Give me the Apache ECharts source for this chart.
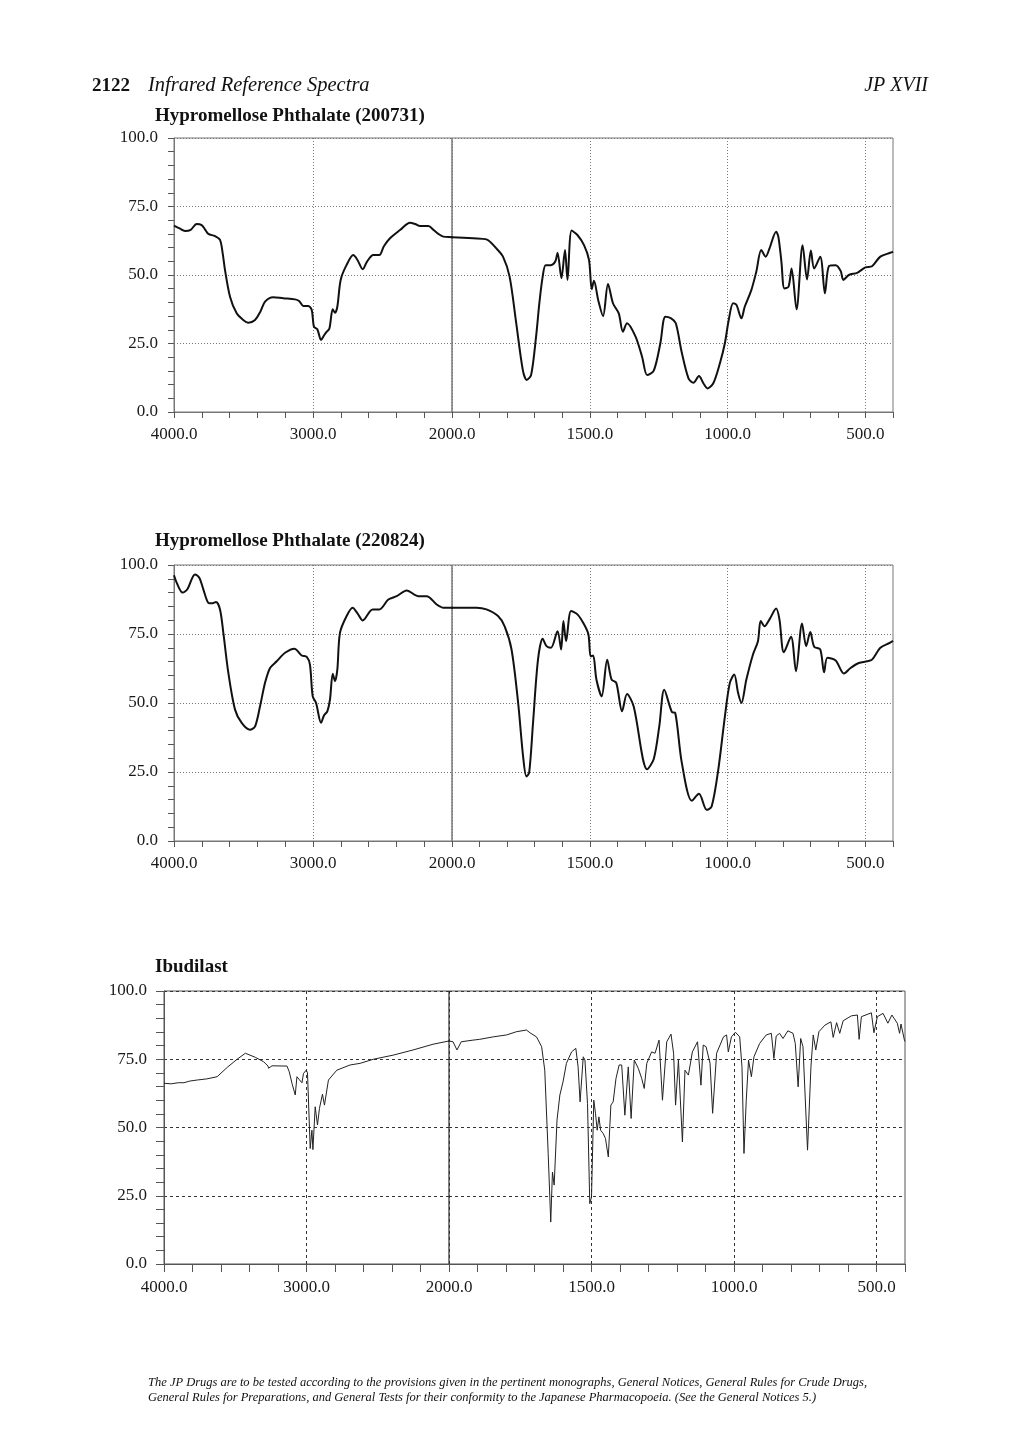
<!DOCTYPE html>
<html>
<head>
<meta charset="utf-8">
<script src="https://cdn.jsdelivr.net/npm/echarts@6/dist/echarts.min.js"></script>
<style>
html,body{margin:0;padding:0;background:#ffffff;}
#page{width:1020px;height:1429px;}
</style>
</head>
<body>
<div id="page"></div>
<script>
// ---------- data (wavenumber in cm-1, transmittance in %) ----------
const hpPhthalate200731Wavenumber = [4000,3960,3921,3880,3837,3801,3775,3753,3705,3669,3650,3633,3597,3549,3500,3465,3417,3380,3345,3286,3214,3129,3100,3070,3034,3009,2993,2969,2942,2920,2901,2882,2858,2842,2825,2801,2760,2710,2680,2642,2610,2566,2523,2490,2446,2374,2302,2265,2230,2170,2130,2098,2062,2000,1923,1875,1839,1815,1791,1767,1743,1729,1713,1695,1683,1671,1660,1641,1625,1617,1603,1590,1581,1566,1545,1521,1503,1493,1485,1469,1452,1434,1416,1395,1380,1365,1334,1310,1292,1268,1244,1226,1205,1188,1167,1142,1124,1104,1088,1073,1052,1028,1010,996,980,968,950,938,914,896,878,862,848,824,816,805,794,779,768,750,728,712,698,686,664,647,632,608,590,580,560,530,500,476,446,410,400];
const hpPhthalate200731Transmittance = [68.0,67.0,66.1,66.5,68.6,68.2,66.5,65.0,64.2,62.8,58.0,51.8,42.1,36.0,33.5,32.6,33.6,36.5,40.3,41.9,41.5,41.1,40.5,38.7,38.7,37.2,31.1,30.2,26.3,28.0,29.3,30.5,37.5,36.2,38.4,48.2,53.5,57.3,55.5,52.1,55.0,57.3,57.3,60.5,63.4,66.4,69.1,68.6,67.9,67.9,66.3,65.0,64.0,63.8,63.4,63.0,59.7,56.7,49.4,32.4,15.3,11.7,13.5,27.5,39.8,49.4,53.6,53.6,55.0,58.1,48.8,59.1,48.2,66.2,64.6,60.9,55.5,44.8,47.9,40.6,35.0,46.7,39.7,36.0,29.3,32.4,27.5,20.0,13.5,15.1,25.1,34.8,34.2,32.4,22.0,12.3,10.7,13.1,10.5,8.6,10.5,17.8,25.1,33.6,39.7,39.1,34.2,38.4,44.5,51.2,59.1,56.7,59.7,65.8,64.0,55.0,45.1,45.7,52.4,37.5,60.9,48.4,58.9,52.4,56.7,43.3,53.3,53.6,51.5,48.2,50.0,50.8,52.8,53.2,56.7,58.1,58.5];

const hpPhthalate220824Wavenumber = [4000,3981,3938,3904,3849,3818,3789,3753,3729,3698,3669,3645,3609,3561,3513,3453,3417,3381,3345,3309,3261,3201,3134,3081,3045,3022,3002,2978,2942,2921,2897,2878,2858,2842,2825,2806,2758,2715,2680,2642,2571,2523,2458,2398,2326,2242,2182,2110,2062,2000,1911,1875,1833,1809,1784,1760,1742,1730,1720,1706,1688,1671,1657,1641,1617,1604,1596,1586,1568,1545,1521,1505,1497,1488,1476,1457,1437,1421,1404,1383,1365,1341,1292,1268,1248,1230,1202,1190,1166,1130,1104,1076,1058,1034,1010,992,976,962,950,932,908,890,880,866,848,824,812,796,770,752,730,715,700,686,664,650,638,608,578,554,524,494,476,446,412,400];
const hpPhthalate220824Transmittance = [96.3,93.6,90.0,91.2,96.6,95.4,91.2,86.3,86.1,86.6,83.9,75.4,60.9,47.6,42.8,40.3,41.5,48.8,57.3,62.7,65.1,68.2,69.7,67.2,66.7,63.9,52.4,50.0,42.8,45.5,47.0,51.2,60.6,57.9,62.1,75.4,81.5,84.5,82.5,79.9,83.9,83.9,87.5,88.7,90.8,88.7,88.7,85.7,84.5,84.5,84.5,83.9,81.5,77.8,69.4,50.0,30.6,23.4,24.8,42.8,65.7,73.3,70.6,70.0,76.0,69.4,79.7,72.4,83.3,82.1,78.5,74.8,66.9,67.2,58.5,52.4,65.7,58.5,57.3,47.0,53.3,48.8,26.0,29.7,41.5,54.8,46.7,46.4,28.2,14.6,17.1,11.3,12.5,25.8,45.1,57.3,60.3,53.6,50.0,58.5,67.6,72.4,79.7,77.8,80.3,84.2,80.3,68.4,74.0,61.5,78.8,70.6,75.7,70.4,69.4,61.1,66.4,65.4,60.7,62.7,64.5,65.1,65.7,70.0,71.8,72.5];

const ibudilastWavenumber = [4000,3950,3900,3860,3820,3766,3700,3627,3557,3487,3429,3359,3301,3270,3266,3242,3137,3121,3102,3079,3067,3050,3032,3021,3002,2993,2974,2962,2955,2939,2923,2909,2888,2874,2846,2787,2694,2624,2531,2392,2252,2112,2000,1986,1972,1957,1916,1892,1845,1798,1763,1728,1716,1693,1675,1664,1652,1643,1637,1631,1621,1611,1600,1588,1570,1555,1547,1540,1529,1523,1514,1506,1500,1492,1486,1480,1474,1468,1459,1451,1441,1432,1424,1414,1403,1394,1383,1371,1361,1350,1336,1324,1315,1306,1289,1277,1263,1251,1236,1221,1212,1205,1195,1181,1172,1160,1146,1128,1116,1108,1098,1084,1075,1061,1037,1026,1020,1009,995,980,972,965,957,949,939,930,910,887,869,860,852,840,828,811,793,785,775,766,758,742,730,722,713,702,681,660,652,640,629,617,588,567,561,553,518,509,497,477,460,446,427,419,414,402,400];
const ibudilastTransmittance = [66.2,66.0,66.4,66.4,67.0,67.4,67.8,68.6,72.0,75.0,77.2,75.7,74.1,72.5,71.7,72.6,72.5,70.4,66.2,61.9,68.6,67.5,66.4,69.8,71.0,70.0,42.3,49.0,41.9,57.6,50.9,57.0,62.2,58.2,67.4,71.0,72.9,73.5,75.0,76.5,78.4,80.5,81.7,81.4,78.4,81.4,82.0,82.3,83.2,83.9,85.1,85.7,84.7,83.2,79.6,71.0,40.5,15.4,33.7,28.9,52.7,61.9,66.7,73.5,77.7,79.0,72.2,59.4,75.9,74.7,58.8,22.1,24.6,60.0,55.2,49.0,53.9,49.0,47.8,46.0,39.2,58.2,59.4,68.0,72.9,72.9,54.5,72.2,53.3,74.7,71.7,68.0,64.3,73.5,77.7,77.2,82.0,60.0,81.4,84.2,77.2,58.2,74.7,44.7,71.0,69.2,77.7,81.4,65.5,80.2,79.6,73.5,55.2,77.2,83.2,83.9,77.7,83.2,84.9,83.2,72.2,40.5,60.0,74.7,68.6,75.9,80.8,83.9,84.5,75.3,83.5,84.5,82.6,85.4,84.5,80.8,64.9,82.6,79.6,41.7,72.2,83.9,78.4,85.1,87.5,88.7,83.0,88.4,84.5,89.1,90.9,91.2,82.3,90.6,92.0,84.7,90.6,91.8,88.2,91.2,88.2,84.5,87.9,82.0,81.5];

// tick labels
const xTickLabelsHigh = [4000, 3000, 2000];
const xTickLabelsLow = [1500, 1000, 500];
const yTickLabels = [0, 25, 50, 75, 100];

// page texts
const pageNumber = '2122';
const runningTitle = 'Infrared Reference Spectra';
const editionTitle = 'JP XVII';
const panelTitles = ['Hypromellose Phthalate (200731)', 'Hypromellose Phthalate (220824)', 'Ibudilast'];
const footerLines = [
  'The JP Drugs are to be tested according to the provisions given in the pertinent monographs, General Notices, General Rules for Crude Drugs,',
  'General Rules for Preparations, and General Tests for their conformity to the Japanese Pharmacopoeia. (See the General Notices 5.)'
];

// ---------- layout ----------
const T = 'rgba(0,0,0,0)';
const SERIF = '"Liberation Serif", "Times New Roman", serif';
const panels = [
  {wn: hpPhthalate200731Wavenumber, tr: hpPhthalate200731Transmittance, left:174, mid:452, right:893, top:138, bottom:412, titleY:116,
   lineW:2, lineC:'#111', smooth:0.3, frame:'#777', grid:'#777', dash:[1,2], tickLen:6, xMargin:14, yMargin:16, font:17},
  {wn: hpPhthalate220824Wavenumber, tr: hpPhthalate220824Transmittance, left:174, mid:452, right:893, top:565, bottom:841, titleY:541,
   lineW:2, lineC:'#111', smooth:0.3, frame:'#777', grid:'#777', dash:[1,2], tickLen:6, xMargin:14, yMargin:16, font:17},
  {wn: ibudilastWavenumber, tr: ibudilastTransmittance, left:164, mid:449, right:905, top:991, bottom:1264, titleY:967,
   lineW:1, lineC:'#222', smooth:false, frame:'#555', grid:'#333', dash:[3,3], tickLen:8, xMargin:15, yMargin:17, font:17}
];

const grids = [], xAxes = [], yAxes = [], series = [];
const fmtX = list => v => list.indexOf(v) >= 0 ? v.toFixed(1) : '';
const fmtY = v => yTickLabels.indexOf(v) >= 0 ? v.toFixed(1) : '';

panels.forEach((p, i) => {
  const h = p.bottom - p.top;
  const pairs = p.wn.map((w, k) => [w, p.tr[k]]);
  // split at 2000 cm-1 (scale change); keep one point beyond for continuity
  const hiEnd = pairs.findIndex(d => d[0] < 2000);
  const loStart = pairs.findIndex(d => d[0] <= 2000);
  const hiData = pairs.slice(0, hiEnd + 1);
  const loData = pairs.slice(Math.max(0, loStart - 1));
  const segs = [
    {left:p.left, width:p.mid - p.left, min:2000, max:4000, interval:200, labels:fmtX(xTickLabelsHigh), colors:[p.grid,T,T,T,T], data:hiData, yShow:true},
    {left:p.mid, width:p.right - p.mid, min:400, max:2000, interval:100, labels:fmtX(xTickLabelsLow), colors:[T,p.grid,T,T,T], data:loData, yShow:false}
  ];
  segs.forEach(s => {
    const gi = grids.length;
    grids.push({left:s.left, top:p.top, width:s.width, height:h, show:true, borderColor:p.frame, borderWidth:1,
      backgroundColor:T, containLabel:false, outerBoundsMode:'none'});
    xAxes.push({type:'value', gridIndex:gi, min:s.min, max:s.max, interval:s.interval, inverse:true, position:'bottom',
      axisLine:{show:true, onZero:false, lineStyle:{color:p.frame, width:1}},
      axisTick:{show:true, inside:false, length:p.tickLen, lineStyle:{color:'#555', width:1}},
      axisLabel:{show:true, formatter:s.labels, margin:p.xMargin, fontFamily:SERIF, fontSize:p.font, color:'#1a1a1a', hideOverlap:false},
      splitLine:{show:true, lineStyle:{color:s.colors, width:1, type:p.dash}}});
    yAxes.push({type:'value', gridIndex:gi, min:0, max:100, interval:5, position:'left',
      axisLine:{show:s.yShow, onZero:false, lineStyle:{color:p.frame, width:1}},
      axisTick:{show:s.yShow, inside:false, length:p.tickLen, lineStyle:{color:'#555', width:1}},
      axisLabel:{show:s.yShow, formatter:fmtY, margin:p.yMargin, fontFamily:SERIF, fontSize:p.font, color:'#1a1a1a'},
      splitLine:{show:true, lineStyle:{color:[p.grid,T,T,T,T], width:1, type:p.dash}}});
    series.push({type:'line', xAxisIndex:gi, yAxisIndex:gi, data:s.data, symbol:'none', showSymbol:false,
      smooth:p.smooth, clip:true, silent:true, animation:false,
      lineStyle:{color:p.lineC, width:p.lineW, join:'round'}});
  });
});

const graphic = [
  {type:'text', x:92, y:86, style:{text:pageNumber, font:'bold 19px ' + SERIF, fill:'#111', textVerticalAlign:'middle', verticalAlign:'middle'}},
  {type:'text', x:148, y:86, style:{text:runningTitle, font:'italic 20.5px ' + SERIF, fill:'#111', textVerticalAlign:'middle', verticalAlign:'middle'}},
  {type:'text', x:928, y:86, style:{text:editionTitle, font:'italic 20px ' + SERIF, fill:'#111', textAlign:'right', align:'right', textVerticalAlign:'middle', verticalAlign:'middle'}}
];
panels.forEach((p, i) => {
  graphic.push({type:'text', x:155, y:p.titleY, style:{text:panelTitles[i], font:'bold 19px ' + SERIF, fill:'#111', textVerticalAlign:'middle', verticalAlign:'middle'}});
});
footerLines.forEach((t, i) => {
  graphic.push({type:'text', x:148, y:1383 + i * 15, style:{text:t, font:'italic 12.5px ' + SERIF, fill:'#111', textVerticalAlign:'middle', verticalAlign:'middle'}});
});

const chart = echarts.init(document.getElementById('page'), null, {renderer:'canvas', width:1020, height:1429});
chart.setOption({
  backgroundColor:'#ffffff',
  animation:false,
  grid:grids, xAxis:xAxes, yAxis:yAxes, series:series, graphic:graphic
});
</script>
</body>
</html>
